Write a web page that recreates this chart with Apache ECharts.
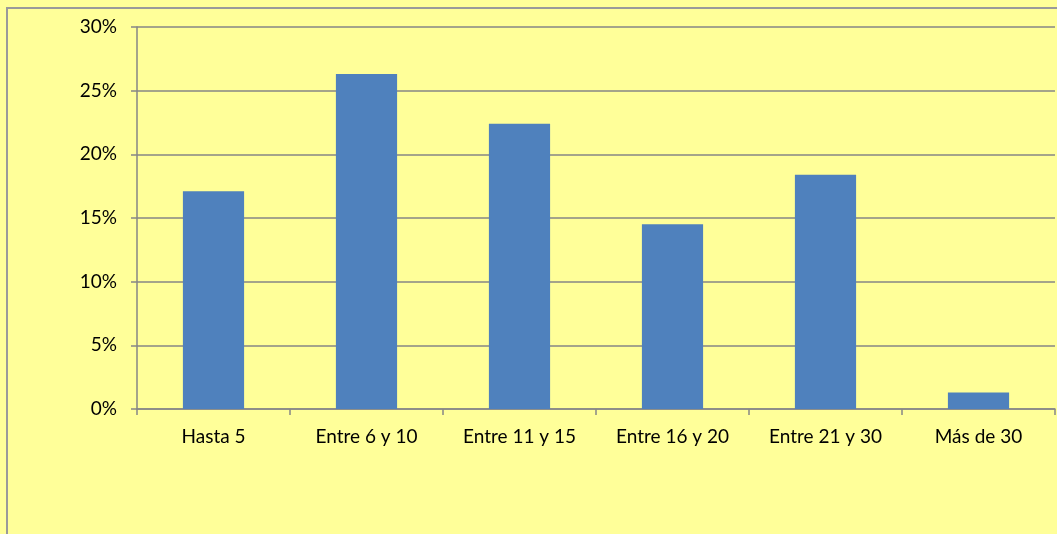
<!DOCTYPE html>
<html>
<head>
<meta charset="utf-8">
<script src="https://cdn.jsdelivr.net/npm/echarts@6/dist/echarts.min.js"></script>
<style>
  html, body { margin: 0; padding: 0; background: #FFFF99; }
  #frame { position: absolute; left: 6px; top: 7px; width: 1080px; height: 560px; border: 2px solid #9a9a9a; box-sizing: border-box; }
  #chart { position: absolute; left: 0; top: 0; width: 1057px; height: 534px; }
</style>
</head>
<body>
<div id="frame"></div>
<div id="chart"></div>
<script>
// Share of cases by group size
const categories = ['Hasta 5', 'Entre 6 y 10', 'Entre 11 y 15', 'Entre 16 y 20', 'Entre 21 y 30', 'Más de 30'];
const shares = [17.1, 26.3, 22.4, 14.5, 18.4, 1.3];
const yTicks = [0, 5, 10, 15, 20, 25, 30];

const chart = echarts.init(document.getElementById('chart'), null, { renderer: 'canvas' });
const font = 'Lato, "Open Sans", sans-serif';
const lineColor = '#868686';
chart.setOption({
  backgroundColor: 'transparent',
  animation: false,
  grid: { left: 137, right: 2, top: 27, bottom: 125 },
  xAxis: {
    type: 'category',
    data: categories,
    axisLine: { lineStyle: { color: lineColor, width: 1.5 } },
    axisTick: { show: true, length: 6, alignWithLabel: false, lineStyle: { color: lineColor, width: 1.5 } },
    axisLabel: { color: '#000', fontSize: 19, fontFamily: font, margin: 18 }
  },
  yAxis: {
    type: 'value',
    min: yTicks[0],
    max: yTicks[yTicks.length - 1],
    interval: 5,
    axisLine: { show: true, lineStyle: { color: lineColor, width: 1.5 } },
    axisTick: { show: true, length: 6, lineStyle: { color: lineColor, width: 1.5 } },
    splitLine: { lineStyle: { color: lineColor, width: 1.5 } },
    axisLabel: { color: '#000', fontSize: 19, fontFamily: font, margin: 20, formatter: v => v + '%' }
  },
  series: [{
    type: 'bar',
    data: shares,
    barWidth: '40%',
    itemStyle: { color: '#4F81BD' }
  }]
});
</script>
</body>
</html>
